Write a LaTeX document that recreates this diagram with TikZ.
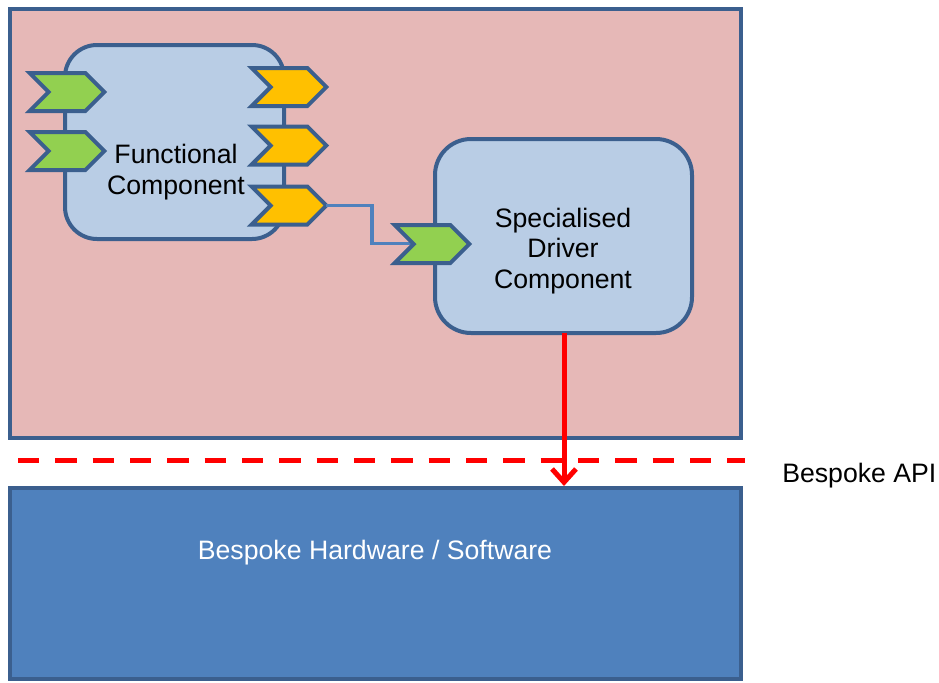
\documentclass[tikz,border=0pt]{standalone}
\usepackage{fontspec}
\setmainfont{Liberation Sans}
\usetikzlibrary{shapes.symbols,arrows.meta}
\definecolor{frame}{HTML}{3B5F8E}
\definecolor{pinkbg}{HTML}{E6B8B7}
\definecolor{compfill}{HTML}{B9CDE5}
\definecolor{portin}{HTML}{92D050}
\definecolor{portout}{HTML}{FFC000}
\definecolor{hwblue}{HTML}{4F81BD}
\definecolor{apired}{HTML}{FF0000}
\tikzset{
  region/.style={draw=frame,line width=3pt},
  component/.style={draw=frame,fill=compfill,line width=3pt,rounded corners=24pt},
  port/.style={signal,signal from=west,signal to=east,signal pointer angle=90,
    draw=frame,line width=3pt,inner sep=0pt,outer sep=0pt,
    minimum width=56pt,minimum height=28.5pt},
  label/.style={font=\fontsize{20}{23}\selectfont,align=center,inner sep=0pt},
}
\begin{document}
\begin{tikzpicture}[x=0.75pt,y=-0.75pt]
\useasboundingbox (0,0) rectangle (939,682);
% application area and bespoke platform
\draw[region,fill=pinkbg] (10,9) rectangle (741,438);
\draw[region,fill=hwblue] (10,488) rectangle (741,679);
\node[label,text=white] (hw) at (375,553) {Bespoke Hardware / Software};
% API boundary
\draw[apired,line width=3.75pt,dash pattern=on 16pt off 12pt] (18,460) -- (745,460);
\node[label,anchor=west] (api) at (782,476) {Bespoke API};
% components
\draw[component] (65,45) rectangle (284,239);
\node[label] (fc) at (176,172) {Functional\\Component};
\draw[component,rounded corners=27pt] (435,139) rectangle (692,333);
\node[label] (dc) at (563,251) {Specialised\\Driver\\Component};
\coordinate (dcb) at (564,333);
% ports
\node[port,fill=portin] (in1) at (67,92) {};
\node[port,fill=portin] (in2) at (67,151) {};
\node[port,fill=portout] (out1) at (289,87) {};
\node[port,fill=portout] (out2) at (289,145.5) {};
\node[port,fill=portout] (out3) at (289,205.5) {};
% wire between the components
\coordinate (bend) at (372,0);
\draw[hwblue,line width=2.3pt] (out3.east) -- (out3.east -| bend) -- ++(0,38) -- ++(46,0) coordinate (wireend);
\node[port,fill=portin] (drvin) at (432,244) {};
% driver call into the platform
\coordinate (hwtop) at (564,486);
\draw[apired,line width=3.75pt,-{Straight Barb[length=10pt,width=18pt]}] (dcb) -- (hwtop);
\end{tikzpicture}
\end{document}
